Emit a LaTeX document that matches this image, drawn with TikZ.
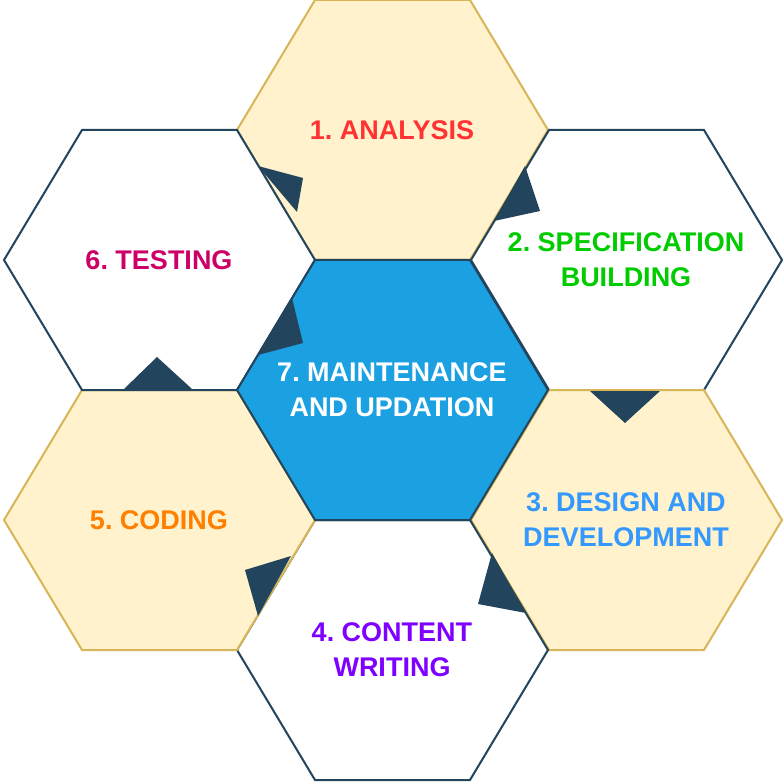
\documentclass[tikz,border=0pt]{standalone}
\usepackage{fontspec}
\setmainfont{Liberation Sans}
\definecolor{paleY}{HTML}{FFF2CC}
\definecolor{goldL}{HTML}{D6B656}
\definecolor{navy}{HTML}{23445D}
\definecolor{midB}{HTML}{1BA1E2}
\tikzset{
  hexY/.style={fill=paleY,draw=goldL,line width=2pt},
  hexW/.style={fill=white,draw=navy,line width=2pt},
  hexB/.style={fill=midB,draw=navy,line width=2pt},
  tip/.style={fill=navy},
  lbl/.style={font=\bfseries\fontsize{27}{35}\selectfont,align=center}
}
\newcommand{\hexat}[3]{\draw[#1] ({#2-155},{#3}) -- ({#2-77},{#3-130}) -- ({#2+78},{#3-130}) -- ({#2+156},{#3}) -- ({#2+78},{#3+130}) -- ({#2-77},{#3+130}) -- cycle;}
\begin{document}
\begin{tikzpicture}[x=1pt,y=-1pt]
\useasboundingbox (0,0) rectangle (784,783);
\hexat{hexY}{392}{130}
\hexat{hexW}{626}{260}
\hexat{hexY}{626}{520}
\hexat{hexW}{392}{650}
\hexat{hexY}{159}{520}
\hexat{hexW}{159}{260}
\hexat{hexB}{392}{390}
% arrow tips
\fill[tip] (258,166) -- (303,178) -- (297,212) -- cycle;
\fill[tip] (494,221) -- (525,166) -- (540,211) -- cycle;
\fill[tip] (590,391) -- (660,391) -- (625,423) -- cycle;
\fill[tip] (478,604) -- (492,553) -- (526,613) -- cycle;
\fill[tip] (245,570) -- (291,556) -- (258,616) -- cycle;
\fill[tip] (124,389) -- (157,357) -- (192,389) -- cycle;
\fill[tip] (258,355) -- (292,298) -- (303,343) -- cycle;
% labels
\node[lbl,text={rgb,255:red,255;green,51;blue,51}] (analysis) at (392,130) {1.~ANALYSIS};
\node[lbl,text={rgb,255:red,0;green,204;blue,0}] (spec) at (626,260) {2.~SPECIFICATION\\BUILDING};
\node[lbl,text={rgb,255:red,51;green,153;blue,255}] (design) at (626,520) {3.~DESIGN AND\\DEVELOPMENT};
\node[lbl,text={rgb,255:red,127;green,0;blue,255}] (content) at (392,650) {4.~CONTENT\\WRITING};
\node[lbl,text={rgb,255:red,255;green,128;blue,0}] (coding) at (159,520) {5.~CODING};
\node[lbl,text={rgb,255:red,204;green,0;blue,102}] (testing) at (159,260) {6.~TESTING};
\node[lbl,text=white] (maint) at (392,390) {7.~MAINTENANCE\\AND UPDATION};
\end{tikzpicture}
\end{document}
